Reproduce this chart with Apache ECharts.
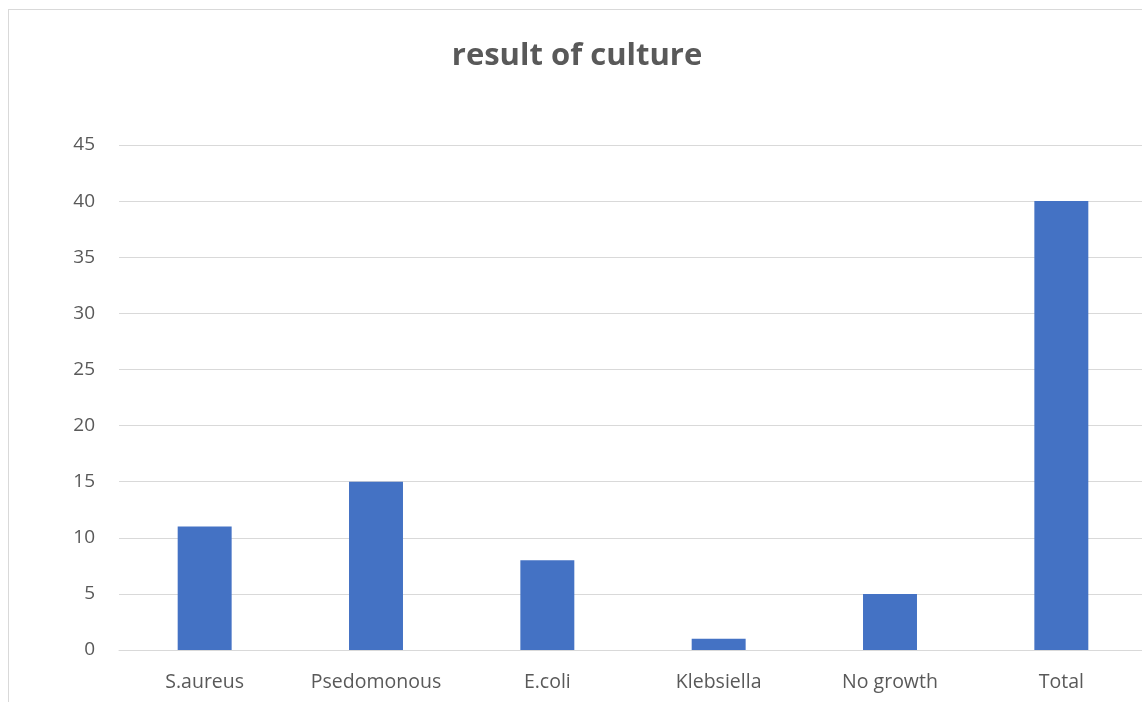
<!DOCTYPE html>
<html>
<head>
<meta charset="utf-8">
<script src="https://cdn.jsdelivr.net/npm/echarts@6/dist/echarts.min.js"></script>
<style>
html,body{margin:0;padding:0;width:1142px;height:702px;overflow:hidden;background:#fff;}
#frame{position:absolute;left:8px;top:9px;width:1200px;height:800px;border:1px solid #d9d9d9;box-sizing:border-box;}
#chart{position:absolute;left:0;top:0;width:1147px;height:702px;}
</style>
</head>
<body>
<div id="frame"></div>
<div id="chart"></div>
<script>
const categories = ["S.aureus", "Psedomonous", "E.coli", "Klebsiella", "No growth", "Total"];
const counts = [11, 15, 8, 1, 5, 40];
const chart = echarts.init(document.getElementById('chart'), null, {renderer: 'canvas'});
chart.setOption({
  animation: false,
  backgroundColor: 'transparent',
  title: {
    text: 'result of culture',
    left: 572, top: 36,
    textAlign: 'center',
    textStyle: {fontFamily: 'Open Sans', fontWeight: 'bold', fontSize: 31, color: '#595959'}
  },
  grid: {left: 119, top: 145, bottom: 52, right: 0, containLabel: false},
  xAxis: {
    type: 'category',
    data: categories,
    axisTick: {show: false},
    axisLine: {lineStyle: {color: '#d9d9d9', width: 1}},
    axisLabel: {interval: 0, hideOverlap: false, color: '#595959', fontFamily: 'Open Sans', fontSize: 19.5, margin: 22}
  },
  yAxis: {
    type: 'value',
    min: 0, max: 45, interval: 5,
    axisLine: {show: false},
    axisTick: {show: false},
    splitLine: {lineStyle: {color: '#d9d9d9', width: 1}},
    axisLabel: {color: '#595959', fontFamily: 'Open Sans', fontSize: 19, margin: 24}
  },
  series: [{
    type: 'bar',
    data: counts,
    barWidth: '31.5%',
    itemStyle: {color: '#4472c4'}
  }]
});
</script>
</body>
</html>
